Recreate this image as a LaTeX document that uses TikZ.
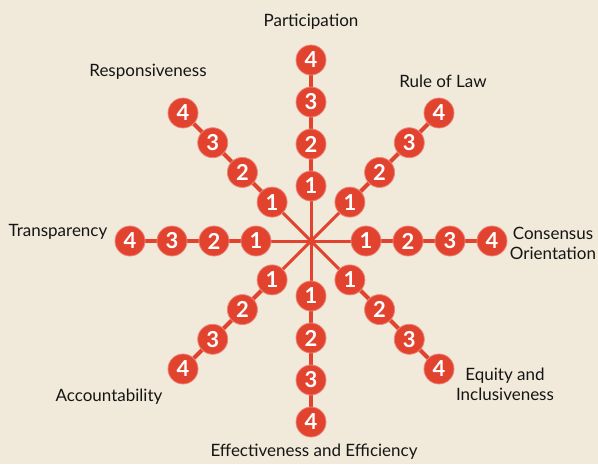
\documentclass[tikz,border=0pt]{standalone}
\usepackage{fontspec}
\setmainfont{Lato}
\definecolor{bg}{HTML}{F1EADA}
\definecolor{rd}{HTML}{E2432F}
\definecolor{txt}{HTML}{151515}
\pgfdeclarelayer{bgl}
\pgfdeclarelayer{lines}
\pgfsetlayers{bgl,lines,main}
\begin{document}
\begin{tikzpicture}[x=1pt,y=-1pt,
  num/.style={circle, fill=rd, draw=rd!65!white, line width=0.8pt, minimum size=30pt, inner sep=0pt, text=white, font=\fontsize{22}{22}\selectfont\bfseries},
  lab/.style={font=\fontsize{17}{20}\selectfont, text=txt, align=center, inner sep=0pt},
  spoke/.style={draw=rd, line width=3pt},
  link/.style={draw=rd, line width=4pt}]
\begin{pgfonlayer}{bgl}
\fill[bg] (0,0) rectangle (598,464);
\end{pgfonlayer}
\useasboundingbox (0,0) rectangle (598,464);
\coordinate (c) at (311,241);
\foreach \ang/\n in {90/N, 45/NE, 0/E, -45/SE, -90/S, -135/SW, 180/W, 135/NW}{
  \foreach \k in {1,...,4}{
    \pgfmathsetmacro\rr{55+42*(\k-1)}
    \node[num] (\n\k) at ({311+\rr*cos(\ang)},{241-\rr*sin(\ang)}) {\k};
  }
}
\begin{pgfonlayer}{lines}
\foreach \n in {N, NE, E, SE, S, SW, W, NW}{
  \draw[spoke] (c) -- (\n1.center);
  \draw[link] (\n1.center) -- (\n2.center) -- (\n3.center) -- (\n4.center);
}
\end{pgfonlayer}
\node[lab] (lp) at (311,22) {Participation};
\node[lab] (lr) at (148,72) {Responsiveness};
\node[lab] (ll) at (443,81) {Rule of Law};
\node[lab] (lt) at (58,232) {Transparency};
\node[lab] (lc) at (553,243) {Consensus\\Orientation};
\node[lab] (le) at (505,384) {Equity and\\Inclusiveness};
\node[lab] (la) at (109,397) {Accountability};
\node[lab] (lf) at (314,452) {Effectiveness and Efficiency};
\end{tikzpicture}
\end{document}
